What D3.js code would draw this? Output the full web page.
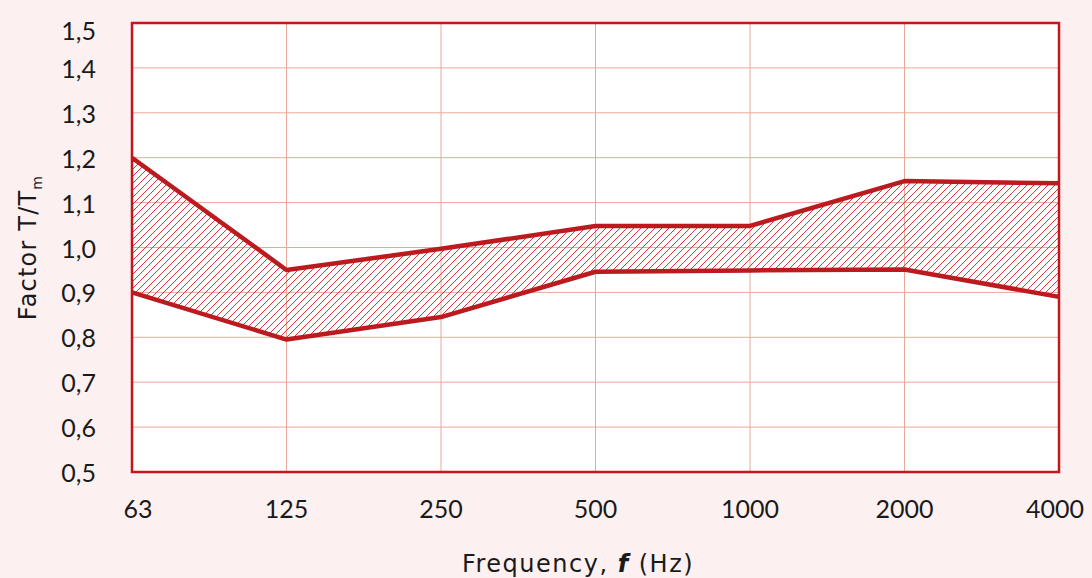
<!DOCTYPE html>
<html>
<head>
<meta charset="utf-8">
<script src="https://cdn.jsdelivr.net/npm/d3@7"></script>
<style>
  html, body { margin: 0; padding: 0; background: #fcf1f0; }
  svg { display: block; font-family: 'Lato', 'Noto Sans', sans-serif; }
</style>
</head>
<body>
<div id="chart"></div>
<script>
const frequencies = ['63', '125', '250', '500', '1000', '2000', '4000']
const upperFactor = [1.2, 0.95, 0.997, 1.048, 1.048, 1.148, 1.143]
const lowerFactor = [0.9, 0.795, 0.845, 0.946, 0.949, 0.951, 0.89]
const yTicks = [0.5, 0.6, 0.7, 0.8, 0.9, 1.0, 1.1, 1.2, 1.3, 1.4, 1.5]

const width = 1092
const height = 578
const margin = { top: 23, right: 33, bottom: 106, left: 132 }
const innerWidth = width - margin.left - margin.right
const innerHeight = height - margin.top - margin.bottom

const svg = d3.select('#chart')
  .append('svg')
  .attr('width', width)
  .attr('height', height)

const defs = svg.append('defs')
const pattern = defs.append('pattern')
  .attr('id', 'hatch')
  .attr('patternUnits', 'userSpaceOnUse')
  .attr('width', 7)
  .attr('height', 7)
pattern.append('path')
  .attr('d', 'M0,7 L7,0 M-2,2 L2,-2 M5,9 L9,5')
  .attr('stroke', '#d63a3a')
  .attr('stroke-width', 1)

const g = svg.append('g')
  .attr('transform', `translate(${margin.left}, ${margin.top})`)

const x = d3.scalePoint()
  .domain(frequencies)
  .range([0, innerWidth])

const y = d3.scaleLinear()
  .domain([0.5, 1.5])
  .range([innerHeight, 0])

// plot background
g.append('rect')
  .attr('width', innerWidth)
  .attr('height', innerHeight)
  .attr('fill', '#fff')

// grid
g.append('g')
  .selectAll('line')
  .data(yTicks)
  .join('line')
  .attr('x1', 0)
  .attr('x2', innerWidth)
  .attr('y1', d => y(d))
  .attr('y2', d => y(d))
  .attr('stroke', '#eba898')
  .attr('stroke-width', 1)

g.append('g')
  .selectAll('line')
  .data(frequencies)
  .join('line')
  .attr('x1', d => x(d))
  .attr('x2', d => x(d))
  .attr('y1', 0)
  .attr('y2', innerHeight)
  .attr('stroke', '#eba898')
  .attr('stroke-width', 1)

// hatched band
const band = frequencies.map((f, i) => ({ f, hi: upperFactor[i], lo: lowerFactor[i] }))

g.append('path')
  .datum(band)
  .attr('fill', 'url(#hatch)')
  .attr('d', d3.area()
    .x(d => x(d.f))
    .y0(d => y(d.lo))
    .y1(d => y(d.hi)))

const line = d3.line().x(d => x(d.f))

g.append('path')
  .datum(band)
  .attr('fill', 'none')
  .attr('stroke', '#bb1a1f')
  .attr('stroke-width', 4.5)
  .attr('stroke-linejoin', 'round')
  .attr('d', line.y(d => y(d.hi)))

g.append('path')
  .datum(band)
  .attr('fill', 'none')
  .attr('stroke', '#bb1a1f')
  .attr('stroke-width', 4.5)
  .attr('stroke-linejoin', 'round')
  .attr('d', line.y(d => y(d.lo)))

// frame
g.append('rect')
  .attr('width', innerWidth)
  .attr('height', innerHeight)
  .attr('fill', 'none')
  .attr('stroke', '#c4161c')
  .attr('stroke-width', 2.5)

// Y axis labels (top one kept inside the frame's top edge)
g.append('g')
  .selectAll('text')
  .data(yTicks)
  .join('text')
  .attr('x', -36)
  .attr('y', d => Math.max(y(d), 7) + 10)
  .attr('text-anchor', 'end')
  .attr('fill', '#1a1a1a')
  .style('font-size', '25px')
  .text(d => d.toFixed(1).replace('.', ','))

// X axis labels (end ones nudged inward a little)
g.append('g')
  .selectAll('text')
  .data(frequencies)
  .join('text')
  .attr('x', d => Math.min(Math.max(x(d), 6), innerWidth - 4))
  .attr('y', innerHeight + 46)
  .attr('text-anchor', 'middle')
  .attr('fill', '#1a1a1a')
  .style('font-size', '25px')
  .text(d => d)

// axis titles
const xTitle = svg.append('text')
  .attr('x', 578)
  .attr('y', 572)
  .attr('text-anchor', 'middle')
  .attr('fill', '#1a1a1a')
  .style('font-family', "'DejaVu Sans', sans-serif")
  .style('font-size', '24px')
  .style('letter-spacing', '1.5px')
xTitle.append('tspan').text('Frequency, ')
xTitle.append('tspan').attr('font-weight', 'bold').attr('font-style', 'italic').text('f')
xTitle.append('tspan').text(' (Hz)')

const yTitle = svg.append('text')
  .attr('transform', `translate(36, ${margin.top + innerHeight / 2}) rotate(-90)`)
  .attr('text-anchor', 'middle')
  .attr('fill', '#1a1a1a')
  .style('font-family', "'DejaVu Sans', sans-serif")
  .style('font-size', '24px')
  .style('letter-spacing', '1.2px')
yTitle.append('tspan').text('Factor T/T')
yTitle.append('tspan').attr('dy', 6).style('font-size', '14px').text('m')
</script>
</body>
</html>
